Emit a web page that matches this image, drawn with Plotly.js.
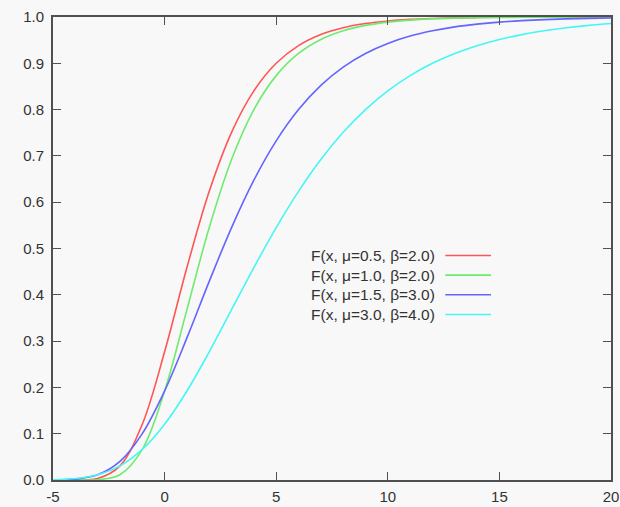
<!DOCTYPE html>
<html>
<head>
<meta charset="utf-8">
<script src="https://cdn.plot.ly/plotly-3.0.1.min.js"></script>
<style>html,body{margin:0;padding:0;background:#f8f8f8;}#chart{width:620px;height:507px;}</style>
</head>
<body>
<div id="chart"></div>
<script>
const xValues = [-5,-4,-3,-2,-1,0,1,2,3,4,5,6,7,8,9,10,11,12,13,14,15,16,17,18,19,20];
const f1 = [0.0000,0.0001,0.0032,0.0305,0.1204,0.2769,0.4589,0.6235,0.7509,0.8405,0.9000,0.9381,0.9620,0.9768,0.9858,0.9914,0.9948,0.9968,0.9981,0.9988,0.9993,0.9996,0.9997,0.9998,0.9999,0.9999];
const f2 = [0.0000,0.0000,0.0006,0.0113,0.0660,0.1923,0.3679,0.5452,0.6922,0.8000,0.8734,0.9212,0.9514,0.9702,0.9819,0.9890,0.9933,0.9959,0.9975,0.9985,0.9991,0.9994,0.9997,0.9998,0.9999,0.9999];
const f3 = [0.0002,0.0019,0.0113,0.0403,0.1002,0.1923,0.3069,0.4289,0.5452,0.6476,0.7324,0.8000,0.8522,0.8917,0.9212,0.9429,0.9588,0.9702,0.9786,0.9846,0.9890,0.9921,0.9943,0.9959,0.9971,0.9979];
const f4 = [0.0006,0.0032,0.0113,0.0305,0.0660,0.1204,0.1923,0.2769,0.3679,0.4589,0.5452,0.6235,0.6922,0.7509,0.8000,0.8405,0.8734,0.9000,0.9212,0.9381,0.9514,0.9620,0.9702,0.9768,0.9819,0.9858];
const seriesNames = ["F(x, μ=0.5, β=2.0)","F(x, μ=1.0, β=2.0)","F(x, μ=1.5, β=3.0)","F(x, μ=3.0, β=4.0)"];
const seriesColors = ["rgb(255,85,85)","rgb(110,235,110)","rgb(100,100,255)","rgb(70,245,245)"];
const xTicks = [-5,0,5,10,15,20];
const yTicks = [0,0.1,0.2,0.3,0.4,0.5,0.6,0.7,0.8,0.9,1.0];

const ys = [f1,f2,f3,f4];
const traces = ys.map((y,i)=>({x:xValues,y:y,type:'scatter',mode:'lines',name:seriesNames[i],
  line:{color:seriesColors[i],width:1.6,shape:'spline',smoothing:1},showlegend:false,hoverinfo:'skip'}));

// legend drawn gnuplot-style: text then sample line
const legTop = 0.485, legStep = 0.0425;
const annotations = seriesNames.map((n,i)=>({xref:'paper',yref:'paper',x:0.688,y:legTop - i*legStep,
  xanchor:'right',yanchor:'middle',text:n,showarrow:false,font:{family:'Liberation Sans, Arial, sans-serif',size:15.5,color:'#333'}}));
const shapes = seriesColors.map((c,i)=>({type:'line',xref:'paper',yref:'paper',x0:0.703,x1:0.785,
  y0:legTop - i*legStep,y1:legTop - i*legStep,line:{color:c,width:1.6}}));

const axisCommon = {showline:true,linecolor:'#505050',linewidth:2,mirror:'ticks',ticks:'inside',ticklen:8,
  tickcolor:'#505050',tickwidth:1,showgrid:false,zeroline:false,
  tickfont:{family:'Liberation Sans, Arial, sans-serif',size:15,color:'#333'}};
const layout = {
  width:620,height:507,paper_bgcolor:'#f8f8f8',plot_bgcolor:'#f8f8f8',
  margin:{l:53,r:9,t:17,b:27},
  xaxis:Object.assign({},axisCommon,{range:[-5,20],tickvals:xTicks,ticktext:xTicks.map(String),ticklabelstandoff:2}),
  yaxis:Object.assign({},axisCommon,{range:[0,1],tickvals:yTicks,ticktext:yTicks.map(v=>v.toFixed(1)),ticklabelstandoff:4}),
  annotations:annotations,shapes:shapes
};
Plotly.newPlot('chart',traces,layout,{displayModeBar:false,staticPlot:true});
</script>
</body>
</html>
